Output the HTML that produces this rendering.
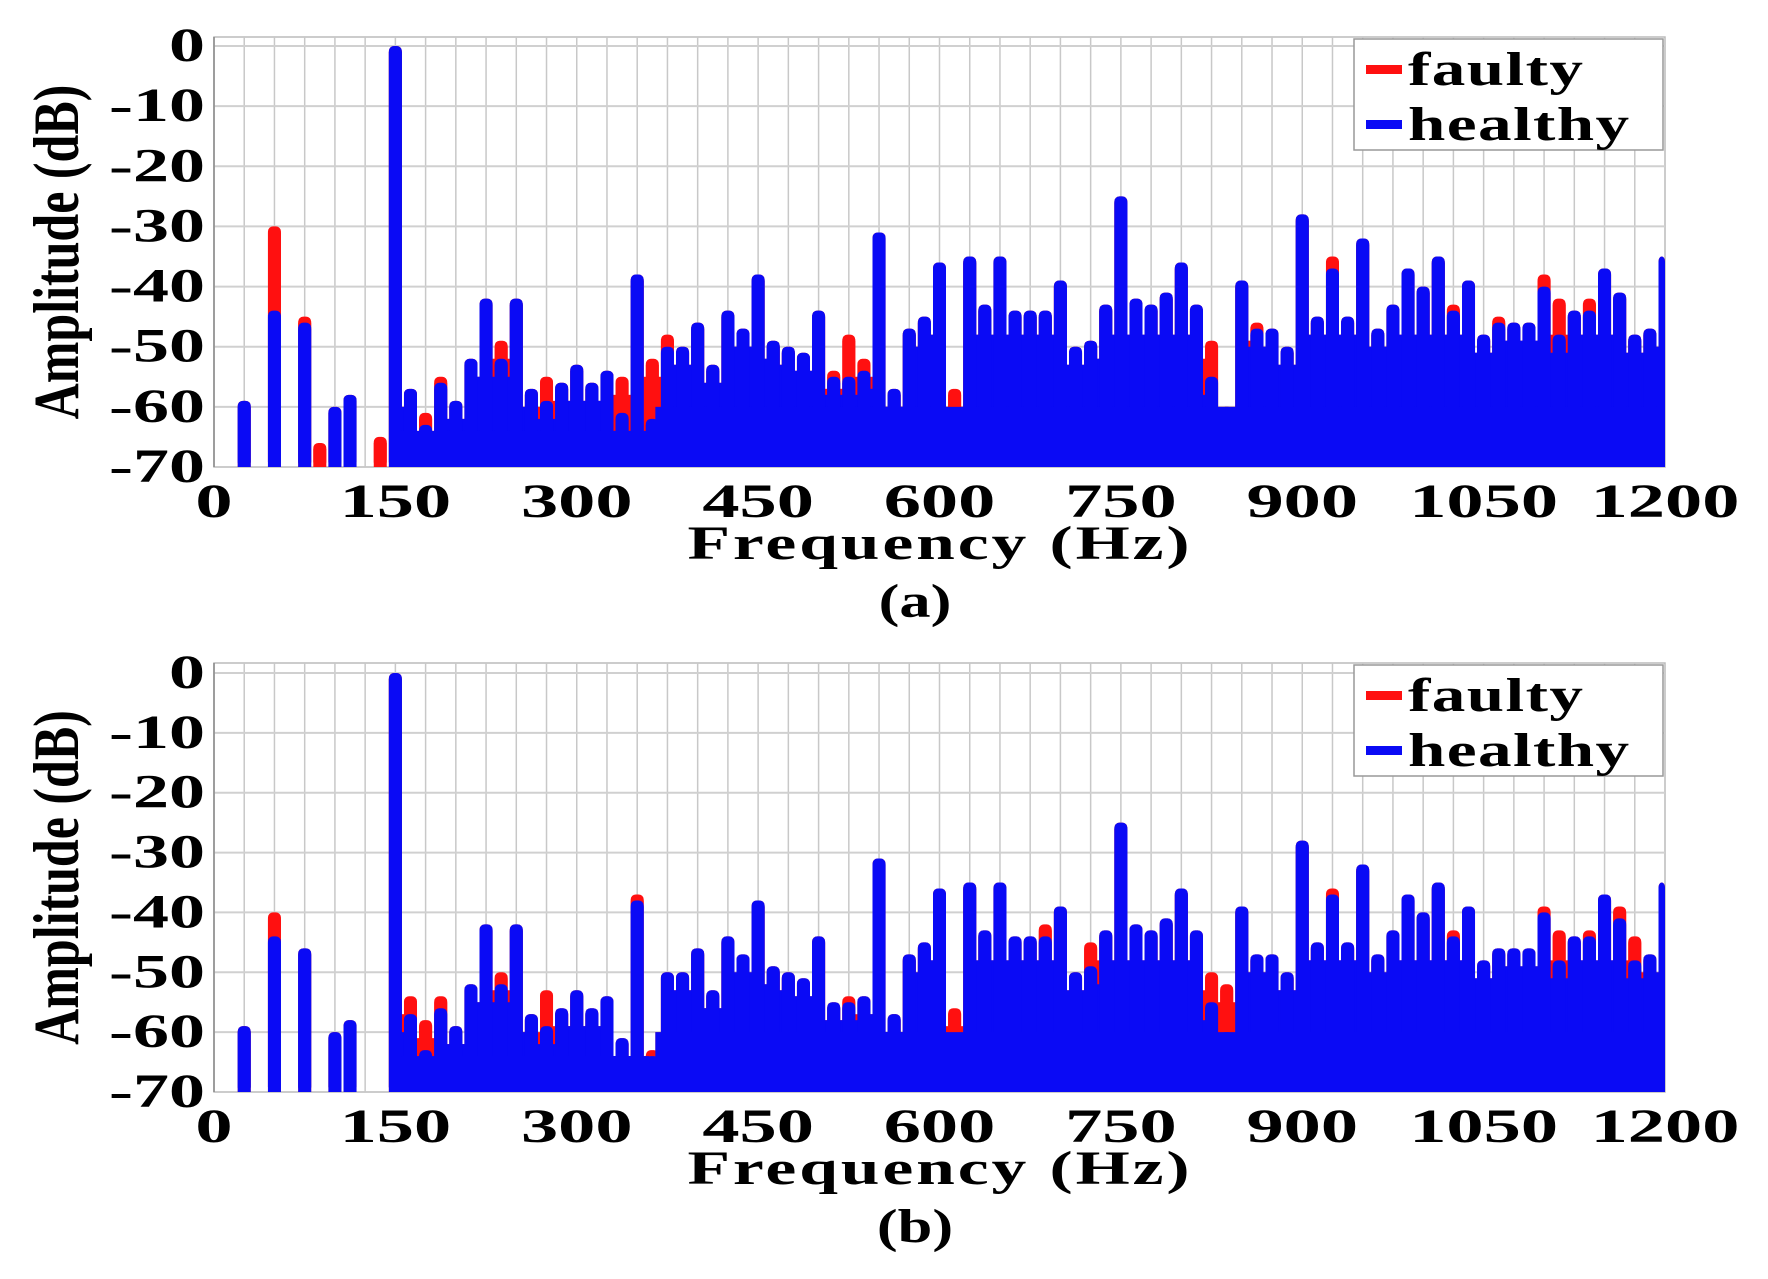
<!DOCTYPE html>
<html><head><meta charset="utf-8"><style>
html,body{margin:0;padding:0;background:#fff;}
svg{display:block;}
text{font-family:"Liberation Serif",serif;font-weight:bold;fill:#000;}
</style></head><body>
<svg id="s" width="1768" height="1279" xmlns="http://www.w3.org/2000/svg"></svg>
<script>
const S=document.getElementById('s');
const NS='http://www.w3.org/2000/svg';
function el(t,a,txt){const e=document.createElementNS(NS,t);for(const k in a)e.setAttribute(k,a[k]);if(txt!==undefined)e.textContent=txt;S.appendChild(e);return e;}
function T(x,y,s,size,anchor,sx,extra){const a={x:0,y:0,'font-size':size,'text-anchor':anchor,transform:`translate(${x},${y}) scale(${sx},1)`};if(extra)Object.assign(a,extra);return el('text',a,s);}
const X0=214,X1=1665;
const blueA={25:-59,50:-44,75:-46,100:-60,112:-58,150:0,162:-57,175:-63,187:-56,200:-59,212:-52,225:-42,237:-52,250:-42,262:-57,275:-59,287:-56,300:-53,312:-56,325:-54,337:-61,350:-38,362:-62,375:-50,387:-50,400:-46,412:-53,425:-44,437:-47,450:-38,462:-49,475:-50,487:-51,500:-44,512:-55,525:-55,537:-54,550:-31,562:-57,575:-47,587:-45,600:-36,612:-62,625:-35,637:-43,650:-35,662:-44,675:-44,687:-44,700:-39,712:-50,725:-49,737:-43,750:-25,762:-42,775:-43,787:-41,800:-36,812:-43,825:-55,837:-60,850:-39,862:-47,875:-47,887:-50,900:-28,912:-45,925:-37,937:-45,950:-32,962:-47,975:-43,987:-37,1000:-40,1012:-35,1025:-44,1037:-39,1050:-48,1062:-46,1075:-46,1087:-46,1100:-40,1112:-48,1125:-44,1137:-44,1150:-37,1162:-41,1175:-48,1187:-47,1200:-35};
const redA=Object.assign({},blueA,{50:-30,75:-45,87:-66,137:-65,175:-61,187:-55,237:-49,275:-55,337:-55,362:-52,375:-48,512:-54,525:-48,537:-52,612:-57,825:-49,862:-46,925:-35,1025:-43,1062:-45,1100:-38,1112:-42,1137:-42});
const blueB=Object.assign({},blueA,{337:-61,362:-64});
const redB=Object.assign({},blueB,{50:-40,75:-46,162:-54,175:-58,187:-54,237:-50,275:-53,350:-37,362:-63,525:-54,612:-56,687:-42,725:-45,825:-50,837:-52,925:-36,1025:-43,1100:-39,1112:-43,1137:-43,1162:-39,1175:-44});
function plot(top,y0,y70,blue,red,label){
  const yv=v=>y0+(-v)/70*(y70-y0);
  const xf=f=>X0+f/1200*(X1-X0);
  el('rect',{x:X0,y:top,width:X1-X0,height:y70-top,fill:'#fff',stroke:'#bbb','stroke-width':1.5});
  for(let f=25;f<1200;f+=25)el('line',{x1:xf(f),x2:xf(f),y1:top,y2:y70,stroke:'#c8c8c8','stroke-width':1.5});
  for(let v=0;v>=-60;v-=10)el('line',{x1:X0,x2:X1,y1:yv(v),y2:yv(v),stroke:'#d0d0d0','stroke-width':2});
  [[red,'#ff1010'],[blue,'#0a0af5']].forEach(([d,c])=>{
    const vals=[];
    for(let i=1;i<=96;i++){const f=i*12.5;const k=Math.round(f);let v=d[k];if(v===undefined)v=d[Math.floor(f)];
      if(v===undefined){v=f<150?-70:(f<360?-64:-61);}vals.push([f,v]);}
    vals.forEach(([f,v],i)=>{
      const x=xf(f);
      if(i<vals.length-1 && f>=150){const nv=vals[i+1][1];let m=Math.min(v,nv);
        let lv=Math.min(m-3,-48); if(lv<m-3)lv=lv; lv=Math.min(lv,m);
        if(lv>-70) el('rect',{x:x,y:yv(lv),width:xf(f+12.5)-x,height:y70-yv(lv),fill:c});}
      if(v<=-70)return;
      const w=13;const x1=Math.max(X0,x-w/2),x2=Math.min(X1,x+w/2);
      el('rect',{x:x1,y:yv(v),width:x2-x1,height:y70-yv(v),fill:c,rx:5});
      el('rect',{x:x1,y:yv(v)+6,width:x2-x1,height:y70-yv(v)-6,fill:c});
    });
    el('rect',{x:xf(155),y:yv(-64),width:xf(360)-xf(155),height:y70-yv(-64),fill:c});
    el('rect',{x:xf(365),y:yv(-60),width:X1-xf(365),height:y70-yv(-60),fill:c});
  });
  el('line',{x1:X0,x2:X0,y1:top,y2:y70,stroke:'#888','stroke-width':1.5});
  for(let v=0;v>=-70;v-=10)T(205,yv(v)+15,String(v),48,'end',1.5);
  for(let f=0;f<=1200;f+=150)T(xf(f),y70+50,String(f),48,'middle',1.55);
  T(940,y70+92,'Frequency (Hz)',48,'middle',1.45,{'letter-spacing':2});
  T(915,y70+150,label,48,'middle',1.3);
  const cy=(top+y70)/2;
  el('text',{x:0,y:0,'font-size':50,'text-anchor':'middle',transform:`translate(78,${cy}) rotate(-90) scale(1.0,1.3)`},'Amplitude (dB)');
  el('rect',{x:1354,y:top+2,width:309,height:111,fill:'#fff',stroke:'#999','stroke-width':1.5});
  el('rect',{x:1366,y:top+28,width:36,height:9,fill:'#ff1010'});
  el('rect',{x:1366,y:top+83,width:36,height:9,fill:'#0a0af5'});
  T(1408,top+48,'faulty',48,'start',1.4,{'letter-spacing':1});
  T(1408,top+103,'healthy',48,'start',1.4,{'letter-spacing':1});
}
plot(37,46,467,blueA,redA,'(a)');
plot(663,673,1092,blueB,redB,'(b)');
</script>
</body></html>
